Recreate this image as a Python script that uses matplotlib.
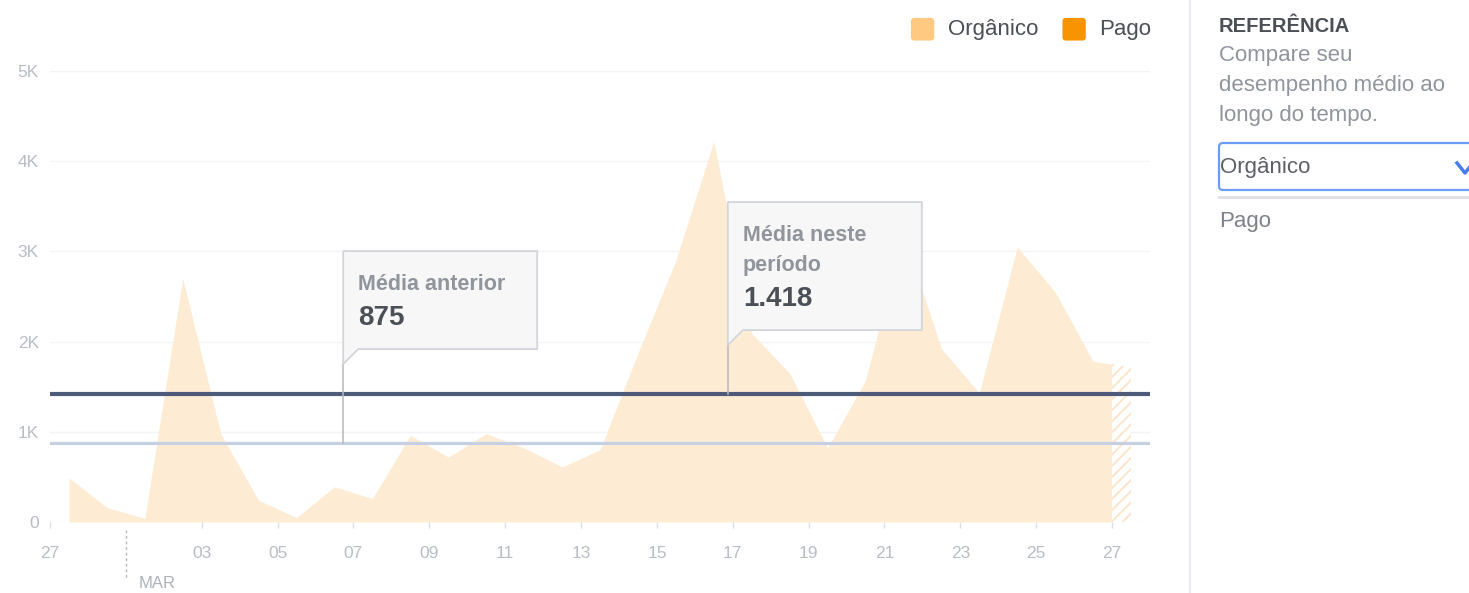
import numpy as np
import matplotlib
matplotlib.use("Agg")
import matplotlib.pyplot as plt
from matplotlib.patches import Polygon, FancyBboxPatch
from matplotlib.lines import Line2D
from matplotlib.transforms import IdentityTransform
from matplotlib.legend_handler import HandlerPatch
from matplotlib.patches import Patch

plt.rcParams['font.family'] = ['Liberation Sans', 'DejaVu Sans']
plt.rcParams['hatch.linewidth'] = 1.4

# Daily organic reach, 27 Feb -> 27 Mar (the last day is still in progress)
organic = [490, 160, 40, 2700, 980, 240, 50, 390, 260, 960,
           720, 980, 820, 610, 800, 1870, 2900, 4220, 2090, 1650,
           820, 1570, 3200, 1920, 1430, 3050, 2550, 1780, 1720]
previous_avg = 875
current_avg = 1418
previous_label = ['Média anterior']
current_label = ['Média neste', 'período']
previous_value_text = '875'
current_value_text = '1.418'

tick_days = [0, 4, 6, 8, 10, 12, 14, 16, 18, 20, 22, 24, 26, 28]
tick_labels = ['27', '03', '05', '07', '09', '11', '13', '15', '17', '19',
               '21', '23', '25', '27']
month_start_day = 2
month_label = 'MAR'
y_ticks = [0, 1000, 2000, 3000, 4000, 5000]
y_tick_labels = ['0', '1K', '2K', '3K', '4K', '5K']

legend_labels = ['Orgânico', 'Pago']
legend_colors = ['#ffc982', '#f79400']

W, H = 1469, 593
AREA = '#feebd4'
TICK_GREY = '#b9bdc5'
DARK = '#4b4f56'
MUTED = '#90949c'

fig = plt.figure(figsize=(W / 100, H / 100), dpi=100)
ax = fig.add_axes([50 / W, (H - 522) / H, 1100 / W, 451 / H])
ax.set_xlim(0, 29)
ax.set_ylim(0, 5000)
for s in ax.spines.values():
    s.set_visible(False)

ax.set_yticks(y_ticks)
ax.set_yticklabels(y_tick_labels)
ax.yaxis.grid(True, color='#f3f4f6', lw=1)
ax.set_axisbelow(True)
ax.tick_params(axis='y', length=0, pad=8, labelsize=12.5, labelcolor=TICK_GREY)

ax.set_xticks(tick_days)
ax.set_xticklabels(tick_labels)
ax.tick_params(axis='x', length=4.5, width=1, color='#dddfe2', pad=13,
               labelsize=12.5, labelcolor=TICK_GREY)

# month boundary marker
xt = ax.get_xaxis_transform()
ax.plot([month_start_day, month_start_day], [-0.018, -0.125], transform=xt,
        clip_on=False, ls=(0, (2, 2)), color='#b5b8be', lw=1)
ax.annotate(month_label, xy=(month_start_day, 0), xycoords=xt,
            xytext=(9.5, -44.5), textcoords='offset points', va='center',
            ha='left', fontsize=12, color='#aeb2b9')

# area series: full days solid, the running day hatched
x = np.arange(len(organic)) + 0.5
vals = np.array(organic, dtype=float)
cut = len(organic) - 1
v_cut = np.interp(cut, x, vals)
mask = x <= cut
ax.fill_between(np.append(x[mask], cut), np.append(vals[mask], v_cut),
                color=AREA, lw=0, zorder=1)
ax.fill_between([cut, x[-1]], [v_cut, vals[-1]], facecolor='white',
                edgecolor='#fde5cb', hatch='///', lw=0, zorder=1)

# average reference lines
ax.axhline(current_avg, color='#4d5a7a', lw=3, zorder=3)
ax.axhline(previous_avg, color='#c7cfe2', lw=2.3, zorder=3)

ident = IdentityTransform()


def callout(day, value, title_lines, value_text):
    px, py = ax.transData.transform((day, value))
    top = py + 192
    height = 68 + 30 * len(title_lines)
    bottom = top - height
    left, right = px, px + 194
    tail = 15
    poly = Polygon([(left, top), (right, top), (right, bottom),
                    (left + tail, bottom), (left, bottom - tail)],
                   closed=True, transform=ident, facecolor='#f7f7f8',
                   edgecolor='#d2d5da', lw=1.3, joinstyle='round', zorder=5)
    fig.add_artist(poly)
    fig.add_artist(Line2D([left, left], [bottom - tail, py], transform=ident,
                          color='#b5b8be', lw=1.1, zorder=4))
    ty = top - 33
    for line in title_lines:
        fig.text(left + 15, ty, line, transform=ident, va='center',
                 ha='left', fontsize=15.5, fontweight='bold', color=MUTED,
                 zorder=6)
        ty -= 30
    fig.text(left + 15, ty - 4, value_text, transform=ident, va='center',
             ha='left', fontsize=20, fontweight='bold', color=DARK, zorder=6)


callout(7.73, previous_avg, previous_label, previous_value_text)
callout(17.87, current_avg, current_label, current_value_text)


class RoundSquare(HandlerPatch):
    def create_artists(self, legend, orig_handle, xdescent, ydescent,
                       width, height, fontsize, trans):
        p = FancyBboxPatch((-xdescent, -ydescent - 2), width, height + 2,
                           boxstyle='round,pad=0,rounding_size=2.5',
                           facecolor=orig_handle.get_facecolor(),
                           edgecolor='none', transform=trans)
        return [p]


# legend
handles = [Patch(facecolor=c, edgecolor='none', label=l)
           for l, c in zip(legend_labels, legend_colors)]
fig.legend(handles=handles, loc='upper right',
           bbox_to_anchor=(1160 / W, 1 - 9 / H), ncol=2, frameon=False,
           fontsize=16, handlelength=1.05, handleheight=1.0,
           handletextpad=0.6, columnspacing=1.1, labelcolor=DARK,
           borderaxespad=0, handler_map={Patch: RoundSquare()})


def fp(xp, yp):
    return xp / W, 1 - yp / H


# side panel
fig.add_artist(Line2D([1190 / W, 1190 / W], [0, 1], transform=fig.transFigure,
                      color='#e9ebee', lw=1.5))
fig.text(*fp(1219, 26), 'REFERÊNCIA', va='center', ha='left', fontsize=14.5,
         fontweight='bold', color=DARK)
for i, line in enumerate(['Compare seu', 'desempenho médio ao',
                          'longo do tempo.']):
    fig.text(*fp(1219, 55 + 30 * i), line, va='center', ha='left',
             fontsize=16, color=MUTED)
fig.add_artist(FancyBboxPatch((1219, H - 190), 270, 47,
                              boxstyle='round,pad=0,rounding_size=4',
                              transform=ident, facecolor='white',
                              edgecolor='#6b9cf3', lw=1.6))
fig.text(*fp(1220, 168), 'Orgânico', va='center', ha='left', fontsize=16,
         color='#5d6067')
fig.add_artist(Line2D([1457, 1465, 1476], [H - 163, H - 173, H - 159],
                      transform=ident, color='#4a7cf0', lw=2.5))
fig.add_artist(Line2D([1219, W], [H - 197, H - 197], transform=ident,
                      color='#dddfe2', lw=2))
fig.text(*fp(1219, 221), 'Pago', va='center', ha='left', fontsize=16,
         color='#7d8188')

fig.savefig('out.png', dpi=100)
